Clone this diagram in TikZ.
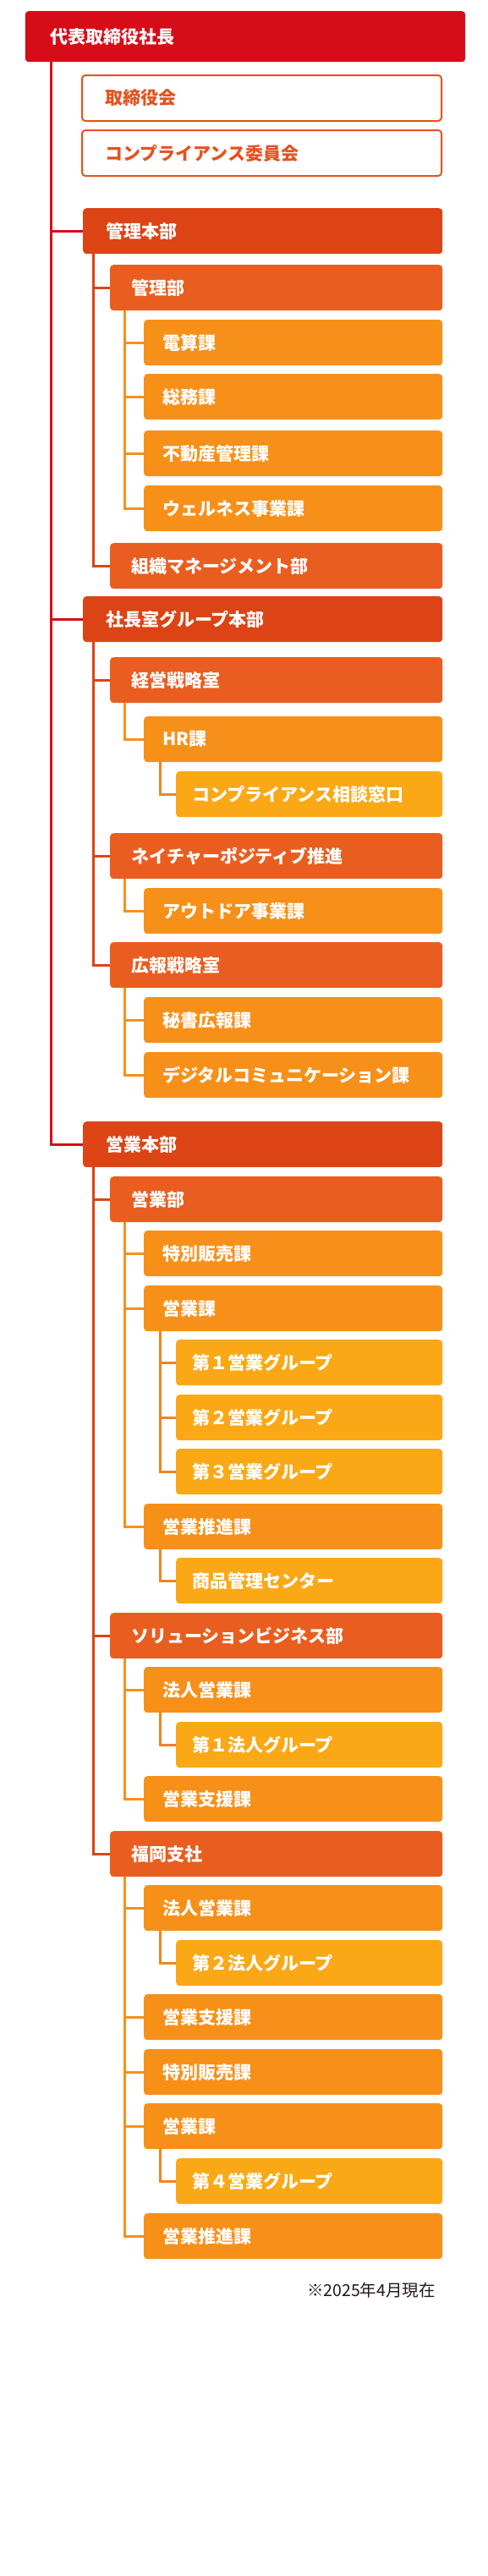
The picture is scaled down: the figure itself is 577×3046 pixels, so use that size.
\documentclass[tikz,border=0pt]{standalone}
\usepackage{fontspec}
\newfontfamily\jp{Noto Sans CJK JP}
\usetikzlibrary{calc}
\definecolor{cRed}{HTML}{D70C19}
\definecolor{cOne}{HTML}{DC4415}
\definecolor{cTwo}{HTML}{E95E20}
\definecolor{cThree}{HTML}{F79019}
\definecolor{cFour}{HTML}{FBA816}
\definecolor{cBoard}{HTML}{E3531F}
\definecolor{cLineFour}{HTML}{F08420}
\definecolor{cNote}{HTML}{231815}
\begin{document}
\begin{tikzpicture}[x=1pt,y=-1pt,
  base/.style={anchor=north west, rounded corners=4, minimum height=54, inner ysep=0, align=left,
    font=\jp\bfseries\fontsize{21}{25}\selectfont, text=white},
  ltop/.style={base, fill=cRed, minimum height=60, inner xsep=30, text width=460.4},
  board/.style={base, fill=white, draw=cBoard, line width=2, text=cBoard, inner xsep=27, text width=371},
  lone/.style={base, fill=cOne, inner xsep=27, text width=371},
  ltwo/.style={base, fill=cTwo, inner xsep=25, text width=343},
  lthree/.style={base, fill=cThree, inner xsep=22, text width=309},
  lfour/.style={base, fill=cFour, inner xsep=19, text width=277},
  trunk/.style={draw=cRed, line width=3},
  cone/.style={draw=cOne, line width=3},
  ctwo/.style={draw=cThree, line width=3},
  cthree/.style={draw=cLineFour, line width=3}
]
\fill[white] (0,0) rectangle (577,3046);
\useasboundingbox (0,0) rectangle (577,3046);

\node[ltop] (top) at (29.6,13) {代表取締役社長};
\node[board] (b1) at (96,88) {取締役会};
\node[board] (b2) at (96,153) {コンプライアンス委員会};

\node[lone] (h1) at (98,246) {管理本部};
\node[ltwo] (d11) at (130,313) {管理部};
\node[lthree] (s111) at (170,378) {電算課};
\node[lthree] (s112) at (170,442) {総務課};
\node[lthree] (s113) at (170,509) {不動産管理課};
\node[lthree] (s114) at (170,574) {ウェルネス事業課};
\node[ltwo] (d12) at (130,642) {組織マネージメント部};

\node[lone] (h2) at (98,705) {社長室グループ本部};
\node[ltwo] (d21) at (130,777) {経営戦略室};
\node[lthree] (s211) at (170,847) {HR課};
\node[lfour] (g2111) at (208,912) {コンプライアンス相談窓口};
\node[ltwo] (d22) at (130,985) {ネイチャーポジティブ推進};
\node[lthree] (s221) at (170,1050) {アウトドア事業課};
\node[ltwo] (d23) at (130,1114) {広報戦略室};
\node[lthree] (s231) at (170,1179) {秘書広報課};
\node[lthree] (s232) at (170,1244) {デジタルコミュニケーション課};

\node[lone] (h3) at (98,1326) {営業本部};
\node[ltwo] (d31) at (130,1391) {営業部};
\node[lthree] (s311) at (170,1455) {特別販売課};
\node[lthree] (s312) at (170,1520) {営業課};
\node[lfour] (g3121) at (208,1584) {第１営業グループ};
\node[lfour] (g3122) at (208,1649) {第２営業グループ};
\node[lfour] (g3123) at (208,1713) {第３営業グループ};
\node[lthree] (s313) at (170,1778) {営業推進課};
\node[lfour] (g3131) at (208,1842) {商品管理センター};
\node[ltwo] (d32) at (130,1907) {ソリューションビジネス部};
\node[lthree] (s321) at (170,1971) {法人営業課};
\node[lfour] (g3211) at (208,2036) {第１法人グループ};
\node[lthree] (s322) at (170,2100) {営業支援課};
\node[ltwo] (d33) at (130,2165) {福岡支社};
\node[lthree] (s331) at (170,2229) {法人営業課};
\node[lfour] (g3311) at (208,2294) {第２法人グループ};
\node[lthree] (s332) at (170,2358) {営業支援課};
\node[lthree] (s333) at (170,2423) {特別販売課};
\node[lthree] (s334) at (170,2487) {営業課};
\node[lfour] (g3341) at (208,2552) {第４営業グループ};
\node[lthree] (s335) at (170,2617) {営業推進課};

\node[anchor=east, inner sep=0, text=cNote, font=\jp\fontsize{19.5}{23}\selectfont] (note) at (515,2708) {※2025年4月現在};

% trunk
\foreach \c in {h1,h2,h3}
  \draw[trunk] ($(top.south west)+(30.4,0)$) |- (\c.west);
% level one to two
\foreach \p/\c in {h1/d11,h1/d12,h2/d21,h2/d22,h2/d23,h3/d31,h3/d32,h3/d33}
  \draw[cone] ($(\p.south west)+(12,0)$) |- (\c.west);
% level two to three
\foreach \p/\c in {d11/s111,d11/s112,d11/s113,d11/s114,d21/s211,d22/s221,d23/s231,d23/s232,
  d31/s311,d31/s312,d31/s313,d32/s321,d32/s322,d33/s331,d33/s332,d33/s333,d33/s334,d33/s335}
  \draw[ctwo] ($(\p.south west)+(17,0)$) |- (\c.west);
% level three to four
\foreach \p/\c in {s211/g2111,s312/g3121,s312/g3122,s312/g3123,s313/g3131,s321/g3211,s331/g3311,s334/g3341}
  \draw[cthree] ($(\p.south west)+(19,0)$) |- (\c.west);
\end{tikzpicture}
\end{document}
